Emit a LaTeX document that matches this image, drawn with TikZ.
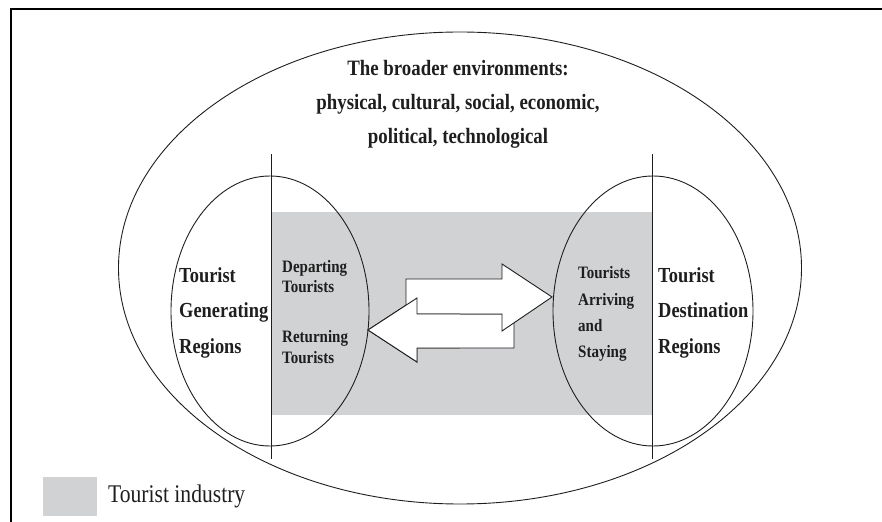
\documentclass[tikz,border=0pt]{standalone}
\usepackage{fontspec}
\setmainfont{Liberation Serif}
% narrow serif faces for the labels
\newfontfamily\condfont[FakeStretch=0.86]{Liberation Serif}
\newfontfamily\legendfont[FakeStretch=0.85]{Liberation Serif}
\definecolor{industry}{RGB}{209,210,212}
\definecolor{ink}{RGB}{30,30,30}

\begin{document}
\begin{tikzpicture}[x=1bp,y=-1bp,
  outline/.style={draw=ink,line width=0.9bp},
  frameline/.style={draw=black,line width=2bp},
  heading/.style={font=\condfont\bfseries\fontsize{22}{26}\selectfont,text=ink,inner sep=0pt,anchor=base},
  region/.style={font=\condfont\bfseries\fontsize{21.5}{26}\selectfont,text=ink,inner sep=0pt,anchor=base west},
  flow/.style={font=\condfont\bfseries\fontsize{17.5}{21}\selectfont,text=ink,inner sep=0pt,anchor=base west},
  legendtext/.style={font=\legendfont\fontsize{25.5}{30}\selectfont,text=ink,inner sep=0pt,anchor=base west},
  flowarrow/.style={fill=white,draw=ink,line width=0.9bp,line join=miter},
]
\useasboundingbox (0,0) rectangle (882,522);

% frame
\draw[frameline] (11,522) -- (11,9) -- (882,9);

% tourist industry band
\fill[industry] (271,212) rectangle (652,415);

% broader environments
\draw[outline] (460,268) ellipse [x radius=341.5, y radius=236];

% generating and destination regions
\draw[outline] (270,311) ellipse [x radius=99, y radius=135];
\draw[outline] (653,311) ellipse [x radius=100, y radius=135];
\draw[outline] (271,154) -- (271,459);
\draw[outline] (652,154) -- (652,459);

% flows between the regions
\def\returnarrow{(514,314) -- (417,314) -- (417,298) -- (368,330) -- (417,362) -- (417,348) -- (514,348) -- cycle}
\def\departarrow{(406,279) -- (502,279) -- (502,264) -- (552,297) -- (502,331) -- (502,314) -- (406,314) -- cycle}
\path[flowarrow] \returnarrow;
\path[flowarrow] \departarrow;
\begin{scope}
  \clip (300,250) rectangle (460,380);
  \path[flowarrow] \returnarrow;
\end{scope}

% heading
\node[heading] (env1) at (458,76) {The broader environments:};
\node[heading] (env2) at (458,110) {physical, cultural, social, economic,};
\node[heading] (env3) at (458,144) {political, technological};

% region labels
\node[region] (gen1) at (179,283) {Tourist};
\node[region] (gen2) at (179,318) {Generating};
\node[region] (gen3) at (179,353) {Regions};
\node[region] (dest1) at (658,283) {Tourist};
\node[region] (dest2) at (658,318) {Destination};
\node[region] (dest3) at (658,353) {Regions};

% flow labels
\node[flow] (dep1) at (282,273) {Departing};
\node[flow] (dep2) at (282,293) {Tourists};
\node[flow] (ret1) at (282,343) {Returning};
\node[flow] (ret2) at (282,363) {Tourists};
\node[flow] (arr1) at (578,279) {Tourists};
\node[flow] (arr2) at (578,306) {Arriving};
\node[flow] (arr3) at (578,332) {and};
\node[flow] (arr4) at (578,357) {Staying};

% legend
\fill[industry] (43,477) rectangle (97,516);
\node[legendtext] (legend) at (108,502) {Tourist industry};
\end{tikzpicture}
\end{document}
